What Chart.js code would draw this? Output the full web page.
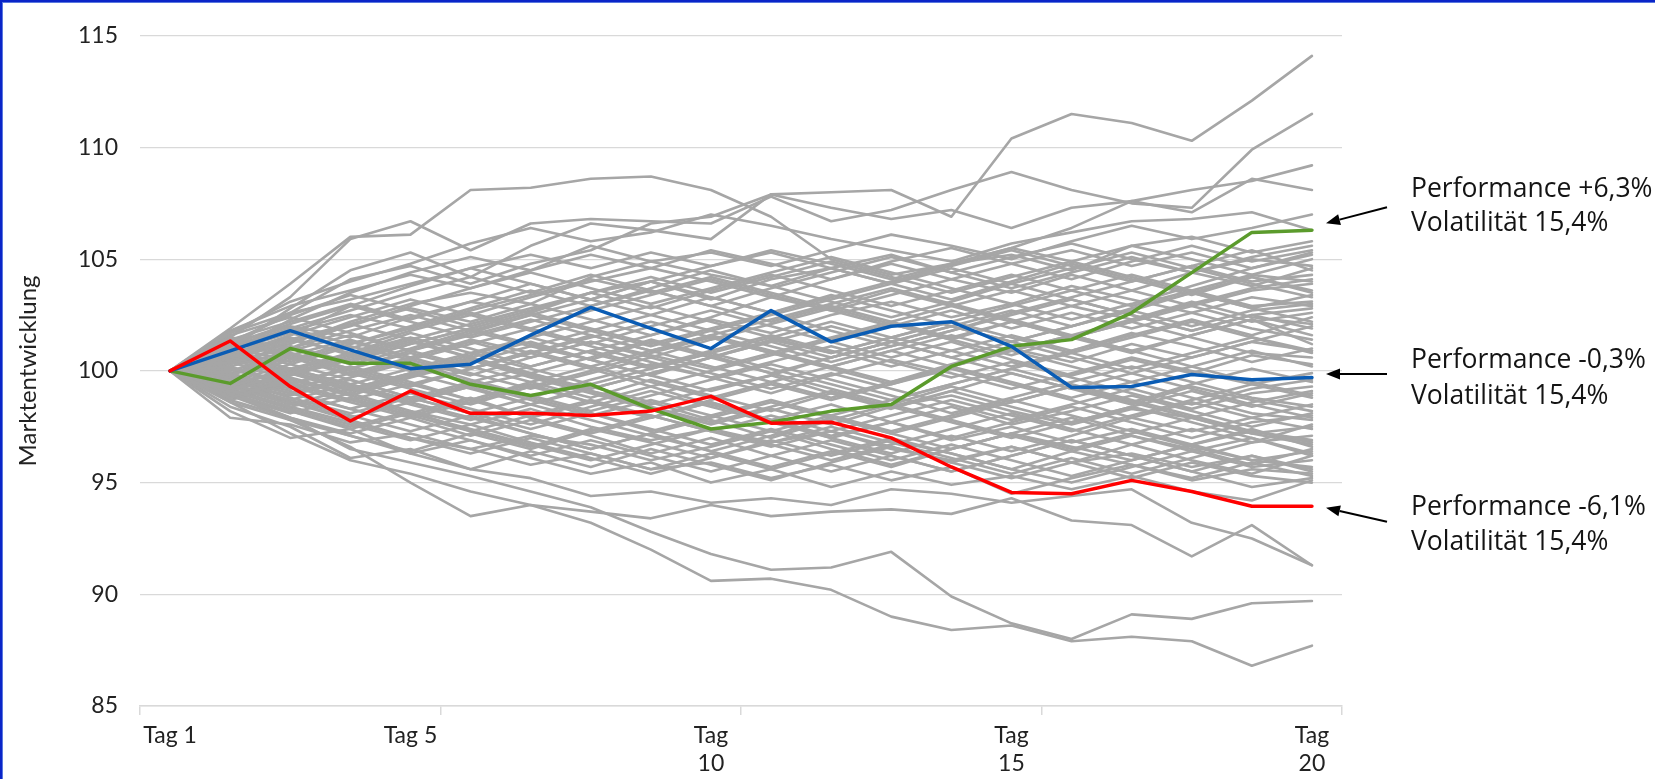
<!DOCTYPE html>
<html><head><meta charset="utf-8">
<script src="https://cdn.jsdelivr.net/npm/chart.js@4.4.1/dist/chart.umd.min.js"></script>
<style>html,body{margin:0;padding:0;background:#fff;}#wrap{width:1655px;height:779px;position:relative;}</style>
</head><body><div id="wrap"><canvas id="c" width="1655" height="779"></canvas></div>
<script>
const days = ['Tag 1','Tag 2','Tag 3','Tag 4','Tag 5','Tag 6','Tag 7','Tag 8','Tag 9','Tag 10','Tag 11','Tag 12','Tag 13','Tag 14','Tag 15','Tag 16','Tag 17','Tag 18','Tag 19','Tag 20'];
const xTickLabels = ['Tag 1','','','','Tag 5','','','','',['Tag','10'],'','','','',['Tag','15'],'','','','',['Tag','20']];
const yAxisTitle = 'Marktentwicklung';

const greenSeries = [100,99.44,101.0,100.34,100.34,99.4,98.9,99.4,98.3,97.4,97.7,98.2,98.5,100.2,101.1,101.4,102.6,104.4,106.2,106.3];
const blueSeries  = [100,100.9,101.8,100.94,100.1,100.3,101.6,102.84,101.9,101.0,102.7,101.3,102.0,102.2,101.1,99.26,99.3,99.84,99.6,99.7];
const redSeries   = [100,101.34,99.3,97.76,99.1,98.1,98.1,98.0,98.2,98.86,97.66,97.7,97.0,95.7,94.56,94.5,95.1,94.6,93.94,93.94];

const grayUpper = [
 [100,101.2,102.6,104.1,104.7,103.9,104.8,105.4,106.6,106.9,107.9,108.0,108.1,106.9,110.4,111.5,111.1,110.3,112.1,114.1],
 [100,101.5,103.3,105.9,106.7,105.4,106.6,106.8,106.7,106.6,107.8,106.7,107.2,108.1,108.9,108.1,107.5,107.3,109.9,111.5],
 [100,101.9,103.9,106.0,106.1,108.1,108.2,108.6,108.7,108.1,106.9,105.0,104.3,104.8,105.5,106.4,107.6,108.1,108.5,109.2],
 [100,101.0,102.8,104.5,105.3,104.2,105.6,106.6,106.3,105.9,107.9,107.3,106.8,107.2,106.4,107.3,107.6,107.1,108.6,108.1],
 [100,101.7,103.1,104.0,104.8,105.7,106.4,105.8,106.2,107.0,106.5,105.9,105.4,104.9,105.7,106.2,106.7,106.8,107.1,106.3],
 [100,100.8,102.3,103.5,104.4,105.1,104.5,105.6,104.9,105.3,104.7,105.4,106.1,105.6,105.0,105.8,106.5,105.9,106.4,107.0]
];
const grayLower = [
 [100,98.6,97.2,96.0,95.4,94.6,94.0,93.2,92.0,90.6,90.7,90.2,89.0,88.4,88.6,87.9,88.1,87.9,86.8,87.7],
 [100,98.9,97.9,96.5,95.9,95.3,94.6,93.9,92.8,91.8,91.1,91.2,91.9,89.9,88.7,88.0,89.1,88.9,89.6,89.7],
 [100,99.0,97.8,96.6,95.0,93.5,94.0,93.7,93.4,94.0,93.5,93.7,93.8,93.6,94.3,93.3,93.1,91.7,93.1,91.3],
 [100,98.4,97.5,96.1,96.5,95.6,95.2,94.4,94.6,94.1,94.3,94.0,94.7,94.5,94.1,94.4,94.7,93.2,92.5,91.3],
 [100,98.2,97.0,97.4,96.3,96.9,96.1,95.4,95.9,95.0,95.6,94.8,95.5,94.9,95.3,94.7,95.3,94.6,94.2,95.1],
 [100,97.9,97.6,96.8,97.2,96.5,95.8,96.3,95.6,95.9,95.2,95.8,95.1,95.7,94.5,95.2,95.8,95.1,95.6,95.4]
];
const grayCore = [
 [100,101.2,102.0,101.5,102.4,103.1,102.6,103.5,104.0,103.2,104.1,104.6,103.9,104.8,105.2,104.5,105.6,106.0,105.3,105.8],
 [100,99.1,98.4,99.0,98.2,97.6,98.3,97.5,96.9,97.4,96.8,97.3,96.5,96.0,96.6,95.9,96.3,95.7,96.2,95.6],
 [100,100.6,101.4,100.8,101.7,101.0,100.2,100.9,101.6,102.3,101.7,102.5,103.1,102.4,103.0,103.8,103.2,102.6,103.3,102.9],
 [100,99.5,99.9,99.2,98.6,99.3,99.9,99.1,98.5,99.2,99.8,99.0,98.4,98.9,98.2,97.6,98.3,97.9,97.2,97.5],
 [100,100.9,100.3,101.1,100.5,99.8,100.6,101.3,100.7,100.1,100.8,100.2,99.5,100.3,101.0,100.4,101.2,100.6,101.3,100.9],
 [100,98.8,99.6,98.9,98.1,98.8,97.9,97.2,97.9,98.6,97.8,97.1,97.7,96.9,97.5,96.8,97.4,96.7,97.3,96.9],
 [100,101.5,101.0,102.1,102.8,102.2,103.0,102.3,101.6,102.4,103.3,102.7,103.4,104.1,103.5,104.3,103.6,104.4,103.8,104.6],
 [100,99.3,100.1,100.8,100.2,99.5,98.8,99.6,100.3,99.7,99.0,99.8,100.5,99.9,99.2,99.9,100.6,100.0,99.4,99.9],
 [100,100.4,99.6,98.9,99.7,100.4,101.1,100.5,99.8,100.6,101.4,100.8,101.5,100.9,100.2,100.9,101.7,101.1,100.4,101.0],
 [100,99.0,98.2,97.5,98.2,97.3,96.6,97.4,96.8,96.1,96.9,96.2,96.9,96.3,95.6,96.4,95.8,95.2,95.9,95.3],
 [100,101.0,101.8,102.5,101.9,102.7,103.4,104.1,103.5,104.2,103.5,102.8,103.6,102.9,102.2,102.9,102.3,103.1,102.4,102.1],
 [100,100.2,99.4,100.2,99.5,98.7,99.5,98.8,99.6,98.9,98.2,99.0,98.3,99.1,99.9,99.2,98.5,99.3,98.7,98.2],
 [100,99.6,100.5,101.3,100.6,101.4,100.8,100.1,99.3,100.0,100.7,101.4,102.1,101.4,102.2,101.5,100.8,101.6,102.3,101.6],
 [100,98.9,98.1,98.8,98.0,98.7,99.4,98.6,97.9,98.6,97.8,98.5,97.7,98.4,97.6,98.2,98.9,98.2,97.5,98.1],
 [100,101.3,100.6,99.8,100.5,101.2,101.9,101.2,102.0,102.7,102.0,101.3,100.6,101.3,100.5,99.8,100.5,99.9,100.7,100.3],
 [100,100.7,101.6,102.4,103.2,102.5,103.3,104.0,104.6,104.0,103.3,104.1,104.8,104.1,104.8,105.4,104.7,105.3,104.6,105.2],
 [100,99.4,98.7,98.0,97.3,98.0,97.2,96.5,97.2,96.4,97.1,97.9,97.2,96.5,97.2,97.9,97.1,96.4,97.0,96.3],
 [100,100.5,99.8,100.6,101.3,100.6,99.9,100.6,101.4,100.7,99.9,99.2,98.5,99.3,98.6,99.3,98.6,99.4,100.1,99.5],
 [100,99.2,99.9,100.7,101.4,100.6,101.3,100.5,99.8,99.1,99.8,100.6,101.3,102.0,102.7,102.0,102.8,103.5,102.8,103.4],
 [100,100.9,100.1,99.3,98.5,97.8,98.5,99.3,98.6,97.8,97.0,97.8,98.5,97.8,97.1,96.4,97.1,96.5,95.8,96.5],
 [100,101.6,102.4,101.7,100.9,101.7,102.5,101.8,102.5,103.3,102.6,103.4,102.7,102.0,101.3,102.0,102.7,103.5,104.2,103.6],
 [100,99.7,99.0,99.7,100.4,99.6,98.9,98.2,98.9,99.6,100.3,99.6,98.9,98.1,98.8,99.5,100.2,99.5,98.8,98.4],
 [100,100.3,101.1,100.4,101.2,101.9,101.2,100.5,101.3,100.6,101.3,102.0,101.3,100.6,101.3,100.6,99.9,100.6,101.3,102.0],
 [100,98.6,97.8,97.1,96.4,97.2,96.5,97.3,98.0,97.3,98.0,97.3,96.6,95.9,96.6,95.9,95.2,95.9,95.3,95.0],
 [100,101.1,101.9,102.7,103.5,104.2,103.5,104.3,103.6,102.9,103.7,104.4,105.1,104.4,103.7,104.4,105.1,104.4,105.0,104.7],
 [100,99.8,100.6,99.9,99.2,98.5,99.3,100.0,100.8,101.5,100.8,100.1,99.4,100.2,100.9,101.6,100.9,100.2,99.5,98.9],
 [100,100.6,99.9,99.1,99.8,100.5,99.7,99.0,98.3,97.6,98.3,97.6,98.4,99.1,98.4,97.7,98.4,99.1,98.4,99.0],
 [100,99.1,99.8,100.5,101.2,101.9,102.6,101.9,101.2,101.9,102.6,101.8,101.1,101.8,102.5,103.2,102.5,101.8,102.5,101.9],
 [100,100.1,99.3,98.6,97.9,98.6,99.3,98.6,97.9,98.7,99.4,98.7,99.4,100.1,99.4,98.7,97.9,97.3,97.9,97.4],
 [100,101.4,100.7,101.4,100.6,99.9,99.2,99.9,100.6,101.4,102.1,102.8,102.1,101.4,100.7,101.5,102.2,101.5,100.8,100.6],
 [100,98.8,99.5,98.7,99.4,98.7,97.9,98.6,99.3,98.5,97.8,97.0,96.3,97.1,96.4,97.1,97.9,98.6,97.9,98.5],
 [100,100.8,101.5,100.7,100.0,100.7,101.5,102.2,102.9,102.2,101.5,100.8,101.5,102.2,102.9,103.6,104.3,103.6,102.9,103.1],
 [100,99.5,98.9,99.6,98.8,98.1,98.8,98.1,97.3,98.0,98.7,98.0,98.7,99.4,100.1,99.4,98.7,98.0,97.3,96.8],
 [100,100.4,101.0,101.8,102.5,101.8,101.1,101.8,101.1,101.8,101.1,100.4,101.1,101.8,102.6,103.3,104.0,104.7,104.0,104.3],
 [100,99.3,98.5,99.2,99.9,100.6,99.9,99.2,99.9,100.6,99.9,100.6,101.3,100.6,99.9,99.2,99.9,99.2,98.5,97.9],
 [100,100.9,101.7,101.0,101.8,102.5,101.8,101.1,100.4,99.7,100.4,101.1,100.4,99.7,100.4,99.7,99.0,98.3,99.0,99.3],
 [100,99.6,98.8,98.1,98.8,99.5,100.2,100.9,100.2,100.9,101.6,100.9,100.2,100.9,101.6,100.9,101.6,102.3,101.6,102.4],
 [100,98.9,98.2,97.4,98.1,97.4,96.7,96.0,96.7,97.4,96.7,96.0,96.7,97.4,98.1,97.4,96.7,97.4,96.8,97.6],
 [100,101.2,102.1,102.9,102.2,101.5,102.2,102.9,103.6,102.9,102.2,102.9,102.2,101.5,102.2,101.5,102.2,102.9,103.6,103.9],
 [100,100.0,100.8,100.1,99.4,100.1,100.9,100.2,99.5,98.8,99.5,98.8,99.5,100.2,100.9,100.2,99.5,100.2,100.9,100.2],
 [100,99.2,98.4,97.7,97.0,96.3,97.0,96.3,95.6,96.3,95.6,96.3,97.0,96.3,95.6,95.0,95.7,96.4,95.7,96.0],
 [100,100.7,101.4,102.1,101.4,102.1,102.8,103.5,102.8,103.6,104.3,103.6,102.9,103.6,104.3,103.6,102.9,103.6,104.3,105.0],
 [100,99.4,100.1,99.4,98.7,99.4,98.7,98.0,98.7,98.0,97.3,98.0,97.3,98.0,98.7,98.0,97.3,96.6,96.0,95.7],
 [100,100.6,100.0,100.8,101.5,100.8,100.1,99.4,100.1,100.8,101.5,102.2,101.5,102.2,101.5,100.8,100.1,100.8,101.5,100.8],
 [100,99.9,99.2,99.9,100.6,101.3,100.6,101.3,100.6,99.9,99.2,99.9,99.2,98.5,97.8,98.5,99.2,98.5,99.2,99.6],
 [100,101.5,100.8,100.1,100.8,100.1,100.8,101.5,102.2,101.5,100.8,101.5,102.2,102.9,103.6,102.9,103.6,102.9,102.2,102.6],
 [100,98.7,99.4,98.7,98.0,97.3,98.0,98.7,98.0,97.3,96.6,97.3,98.0,98.7,98.0,97.3,98.0,98.7,99.4,98.8],
 [100,100.2,100.9,101.6,100.9,100.2,99.5,100.2,100.9,101.6,102.3,103.0,103.7,103.0,102.3,101.6,100.9,101.6,102.3,101.2],
 [100,99.6,99.0,98.3,97.6,96.9,96.2,96.9,96.2,95.5,96.2,96.9,96.2,95.5,96.2,96.9,96.2,95.5,96.2,95.5],
 [100,100.8,100.1,99.4,100.1,100.8,101.5,100.8,100.1,100.8,100.1,99.4,98.7,99.4,100.1,100.8,101.5,102.2,101.5,100.9],
 [100,101.8,102.9,103.6,104.3,103.7,104.5,105.2,104.6,105.4,104.8,104.1,104.9,105.5,104.8,104.1,104.9,105.6,104.9,105.4],
 [100,100.3,101.6,102.9,103.8,104.6,103.9,103.2,104.0,104.7,105.3,104.6,103.9,103.2,104.0,104.8,104.1,103.4,104.2,103.5],
 [100,99.0,97.9,97.1,96.3,95.6,96.4,95.7,96.5,95.8,95.1,95.9,96.6,95.9,95.2,95.9,96.7,96.0,95.4,96.2],
 [100,100.5,101.3,102.0,102.9,103.7,104.4,103.7,103.0,103.7,104.4,105.1,104.4,103.7,103.0,102.3,103.0,103.8,104.6,105.3],
 [100,99.7,98.6,97.8,97.0,96.5,97.1,96.7,96.0,96.6,97.3,96.5,95.8,96.5,97.2,96.6,96.0,96.7,97.4,96.6],
 [100,101.4,102.2,103.0,102.3,103.1,103.9,103.2,104.0,103.3,102.6,103.3,104.0,104.7,105.4,104.7,104.0,104.7,105.4,104.5],
 [100,99.5,100.3,99.6,98.8,98.1,97.4,98.1,97.4,96.7,97.4,96.7,96.0,96.7,96.0,95.3,96.0,96.7,96.0,96.4],
 [100,100.9,101.9,101.2,102.0,102.8,103.6,102.9,103.7,104.5,103.8,103.1,102.4,103.1,103.9,103.2,102.5,101.8,102.5,102.8],
 [100,98.7,97.9,97.2,97.9,97.1,97.8,97.1,96.3,97.0,96.2,95.5,96.2,95.5,96.2,96.9,96.2,95.5,94.8,95.2],
 [100,100.4,101.1,100.3,101.0,101.8,102.5,103.2,102.5,101.8,102.5,103.2,103.9,104.6,103.9,104.6,105.3,104.6,103.9,103.3],
 [100,99.8,99.1,98.3,99.0,98.3,97.6,98.4,99.1,98.4,97.7,97.0,97.7,97.0,97.7,98.4,97.7,97.0,97.7,98.0],
 [100,101.1,100.4,101.2,101.9,102.6,101.9,102.7,103.4,104.1,103.4,102.7,102.0,102.7,101.9,102.6,101.9,102.6,101.9,101.4],
 [100,99.3,98.6,97.9,98.6,99.3,98.5,97.8,97.1,96.4,95.7,96.4,95.7,96.5,97.2,96.5,97.2,97.9,97.2,96.7],
 [100,100.6,101.2,102.2,103.0,103.5,103.0,104.2,104.9,104.3,103.8,104.6,105.2,104.4,105.1,105.7,105.0,104.4,105.1,105.6],
 [100,99.9,100.7,100.0,99.3,100.1,100.8,101.6,100.9,100.2,99.5,100.2,100.9,100.2,99.5,98.8,99.5,98.8,98.1,97.8],
 [100,98.9,99.7,99.0,99.8,100.5,99.8,99.1,98.4,97.7,98.4,99.1,98.4,97.7,97.0,97.7,98.4,97.7,97.0,96.2],
 [100,101.3,102.5,103.4,102.7,102.0,102.7,103.5,104.2,103.5,104.2,104.9,104.2,103.5,104.2,104.9,104.2,103.5,102.8,102.2],
 [100,100.1,99.4,100.1,100.9,101.6,102.3,101.6,100.9,101.6,100.9,100.2,100.9,101.6,100.9,101.6,102.3,103.0,103.7,104.1],
 [100,99.1,98.3,97.6,96.9,97.6,96.8,96.1,95.4,96.1,96.8,97.5,96.8,96.1,95.4,96.1,95.4,96.1,96.8,97.1],
 [100,100.7,100.0,99.2,99.9,99.2,98.5,99.2,99.9,100.6,101.3,100.6,101.3,102.0,101.3,102.0,102.7,102.0,102.7,103.0],
 [100,101.7,102.6,103.2,103.9,104.6,105.2,104.6,105.3,104.7,105.4,104.8,104.1,104.8,105.5,104.9,105.6,105.0,104.3,104.0],
 [100,99.4,98.7,99.4,98.6,97.9,97.2,96.5,97.2,97.9,98.6,97.9,97.2,97.9,98.6,99.3,98.6,97.9,98.6,99.1]
];

const annotTexts = [
  ['Performance +6,3%','Volatilität 15,4%'],
  ['Performance -0,3%','Volatilität 15,4%'],
  ['Performance -6,1%','Volatilität 15,4%']
];

const GRAY = '#a6a6a6';
const datasets = [];
datasets.push({data: redSeries, borderColor:'#ff0000', borderWidth:3.5, order:0});
datasets.push({data: blueSeries, borderColor:'#0a5cb4', borderWidth:3.5, order:1});
datasets.push({data: greenSeries, borderColor:'#5b9b2c', borderWidth:3.5, order:2});
[...grayUpper, ...grayCore, ...grayLower].forEach(s => datasets.push({data:s, borderColor:GRAY, borderWidth:2.6, order:10}));

const annotLayout = [
  {series: greenSeries, tipDy:-7, startDy:-16, textDy:[-26, 8]},
  {series: blueSeries,  tipDy:-3.5, startDy:0, textDy:[-6, 30]},
  {series: redSeries,   tipDy:1.5, startDy:14, textDy:[7, 42]}
];

const annotPlugin = {
  id:'annot',
  afterDraw(chart){
    const ctx = chart.ctx, ys = chart.scales.y, area = chart.chartArea;
    ctx.save();
    annotLayout.forEach((a, i) => {
      const endV = a.series[a.series.length-1];
      const tipX = area.right - 16, tipY = ys.getPixelForValue(endV) + a.tipDy;
      const sx = area.right + 45, sy = tipY + a.startDy;
      const ang = Math.atan2(tipY - sy, tipX - sx);
      const hl = 14, hw = 5.5;
      const bx = tipX - hl*Math.cos(ang), by = tipY - hl*Math.sin(ang);
      ctx.strokeStyle = '#000'; ctx.lineWidth = 2;
      ctx.beginPath(); ctx.moveTo(sx, sy); ctx.lineTo(bx, by); ctx.stroke();
      ctx.fillStyle = '#000';
      ctx.beginPath();
      ctx.moveTo(tipX, tipY);
      ctx.lineTo(bx + hw*Math.sin(ang), by - hw*Math.cos(ang));
      ctx.lineTo(bx - hw*Math.sin(ang), by + hw*Math.cos(ang));
      ctx.closePath(); ctx.fill();
      ctx.fillStyle = '#141414';
      ctx.font = '26.5px "Open Sans"';
      ctx.textAlign = 'left'; ctx.textBaseline = 'alphabetic';
      annotTexts[i].forEach((t, k) => ctx.fillText(t, area.right + 69, tipY + a.textDy[k]));
    });
    ctx.fillStyle = '#0a24c8';
    ctx.fillRect(0, 0, 2, chart.height);
    ctx.fillRect(0, 0, chart.width, 2);
    ctx.fillStyle = '#5a78e0';
    ctx.fillRect(2, 2, 1, chart.height);
    ctx.fillRect(2, 2, chart.width, 1);
    ctx.restore();
  }
};

new Chart(document.getElementById('c'), {
  type:'line',
  data:{labels: days, datasets},
  options:{
    responsive:false, animation:false, devicePixelRatio:1,
    layout:{padding:{top:35, right:313, left:0, bottom:0}},
    plugins:{legend:{display:false}, tooltip:{enabled:false}},
    elements:{point:{radius:0}, line:{tension:0, borderJoinStyle:'round', borderCapStyle:'round'}},
    scales:{
      x:{
        offset:true,
        grid:{offset:true, drawOnChartArea:false, drawTicks:true, tickLength:9, lineWidth:1.5,
              color:(c)=> (c.index === undefined || c.index % 5 === 0) ? '#d9d9d9' : 'rgba(0,0,0,0)'},
        border:{color:'#d9d9d9', width:1.5},
        ticks:{autoSkip:false, maxRotation:0, minRotation:0, padding:7, color:'#222',
               font:{family:'Lato', size:23, lineHeight:1.2},
               callback:(v,i)=>xTickLabels[i]},
        afterFit(s){ s.height = 73; }
      },
      y:{
        min:85, max:115,
        ticks:{stepSize:5, padding:22, color:'#222', font:{family:'Lato', size:23}},
        grid:{color:'#d9d9d9', lineWidth:1.2, drawTicks:false},
        border:{display:false},
        title:{display:true, text:yAxisTitle, color:'#222', font:{family:'Lato', size:24}, padding:{top:14,bottom:0}},
        afterFit(s){ s.width = 140; }
      }
    }
  },
  plugins:[annotPlugin]
});
</script></body></html>
